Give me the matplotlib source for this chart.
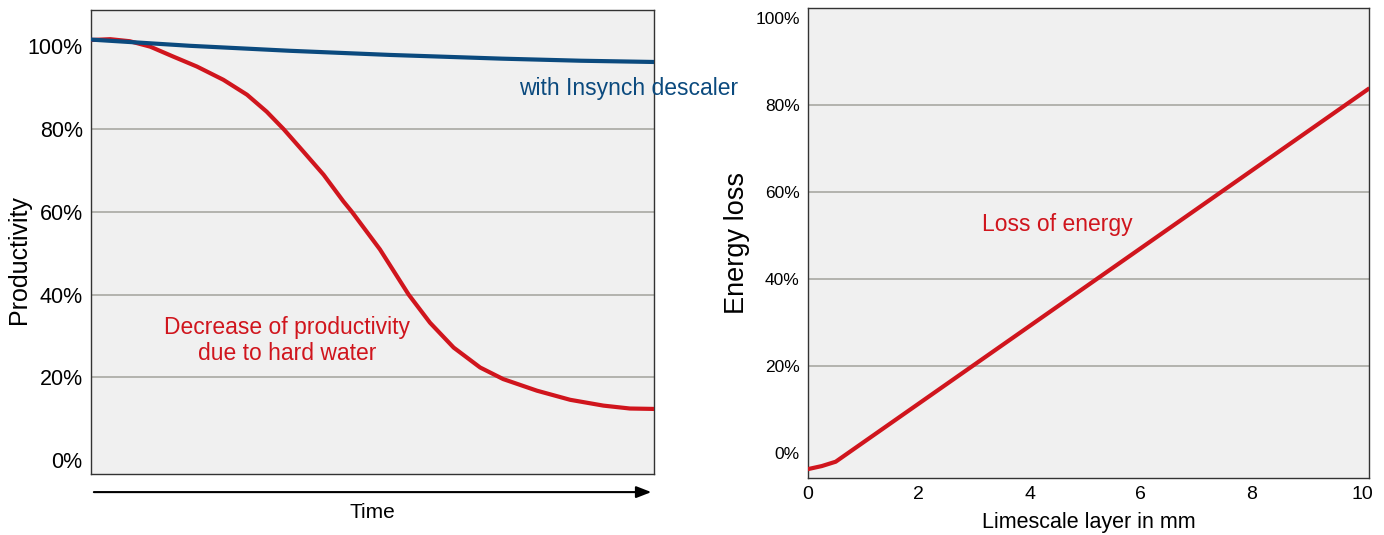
import matplotlib.pyplot as plt
from matplotlib.ticker import FuncFormatter

plt.rcParams['font.family'] = ['Liberation Sans', 'DejaVu Sans']

# Left chart: productivity over time (time is unitless, 0..10)
time_pts = [0.0, 0.34, 0.69, 1.05, 1.46, 1.88, 2.35, 2.77, 3.12, 3.42, 3.77, 4.13,
            4.48, 4.63, 5.13, 5.64, 6.02, 6.44, 6.91, 7.32, 7.92, 8.51, 9.10, 9.57, 10.0]
hard_water = [101.4, 101.6, 101.1, 99.8, 97.4, 95.0, 91.8, 88.2, 84.1, 79.9, 74.5, 68.9,
              62.5, 60.0, 50.9, 40.0, 33.2, 27.2, 22.4, 19.6, 16.8, 14.6, 13.2, 12.5, 12.4]
blue_time = [0, 1.76, 3.53, 5.31, 7.3, 8.7, 10]
descaler = [101.5, 100.0, 98.8, 97.8, 96.9, 96.4, 96.1]

# Right chart: energy loss vs limescale thickness
limescale_mm = [0, 0.25, 0.5, 10.1]
energy_loss = [-3.7, -3.0, -2.0, 83.6]

pct_ticks = [0, 20, 40, 60, 80, 100]
x_ticks = [0, 2, 4, 6, 8, 10]

red = '#d0151d'
blue = '#0b4a7e'
bg = '#f0f0f0'
grid_c = '#a9a9a3'

fig = plt.figure(figsize=(13.84, 5.35), dpi=100)
ax1 = fig.add_axes([0.0658, 0.114, 0.4068, 0.867])
ax2 = fig.add_axes([0.5838, 0.1065, 0.4053, 0.8785])

pct = FuncFormatter(lambda v, p: '%d%%' % v)

for ax in (ax1, ax2):
    ax.set_facecolor(bg)
    for s in ax.spines.values():
        s.set_color('#333333')
        s.set_linewidth(1.0)
    ax.tick_params(length=0)
    ax.yaxis.set_major_formatter(pct)
    ax.set_yticks(pct_ticks)
    for v in (20, 40, 60, 80):
        ax.axhline(v, color=grid_c, lw=1.2, zorder=1)

# left
ax1.plot(time_pts, hard_water, color=red, lw=3, solid_joinstyle='round', zorder=3)
ax1.plot(blue_time, descaler, color=blue, lw=3, solid_joinstyle='round', zorder=4)
ax1.set_xlim(0, 10)
ax1.set_ylim(-3.3, 108.6)
ax1.set_xticks([])
ax1.tick_params(axis='y', labelsize=15.5, pad=6)
ax1.set_ylabel('Productivity', fontsize=18)
ax1.yaxis.set_label_coords(-0.106, 0.463)
ax1.text(0.955, 0.832, 'with Insynch descaler', transform=ax1.transAxes, color=blue,
         fontsize=16.5, ha='center', va='center', clip_on=False)
ax1.text(0.348, 0.288, 'Decrease of productivity\ndue to hard water', transform=ax1.transAxes,
         color=red, fontsize=16.5, ha='center', va='center', linespacing=1.15)
ax1.annotate('', xy=(1.0, -0.039), xytext=(0.0, -0.039), xycoords='axes fraction',
             arrowprops=dict(arrowstyle='-|>,head_length=0.9,head_width=0.35',
                             color='black', lw=1.5))
ax1.text(0.5, -0.062, 'Time', transform=ax1.transAxes, fontsize=15,
         ha='center', va='top')

# right
ax2.plot(limescale_mm, energy_loss, color=red, lw=3, solid_joinstyle='round', zorder=3)
ax2.set_xlim(0, 10.12)
ax2.set_ylim(-5.75, 102.3)
ax2.set_xticks(x_ticks)
ax2.tick_params(axis='y', labelsize=12.5, pad=6)
ax2.tick_params(axis='x', labelsize=14, pad=6)
ax2.set_ylabel('Energy loss', fontsize=19.5)
ax2.yaxis.set_label_coords(-0.103, 0.5)
ax2.set_xlabel('Limescale layer in mm', fontsize=15.5, labelpad=6)
ax2.text(0.445, 0.54, 'Loss of energy', transform=ax2.transAxes, color=red,
         fontsize=16.5, ha='center', va='center')

fig.savefig('out.png', dpi=100)
